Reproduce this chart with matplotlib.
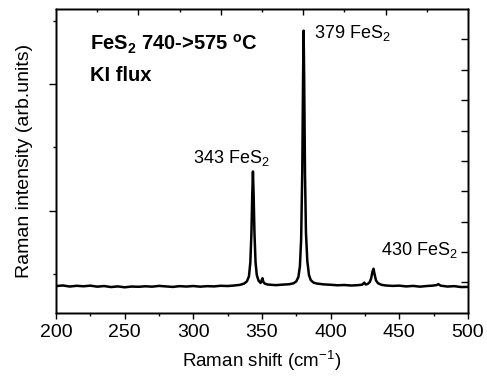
import matplotlib
matplotlib.use("Agg")
import matplotlib.pyplot as plt

plt.rcParams['font.family'] = ['Liberation Sans', 'DejaVu Sans']
plt.rcParams['mathtext.fontset'] = 'custom'
plt.rcParams['mathtext.rm'] = 'Liberation Sans'
plt.rcParams['mathtext.bf'] = 'Liberation Sans:bold'

# spectrum (Raman shift, intensity)
shift = [200, 205, 210, 215, 220, 225, 230, 235, 240, 245, 250, 255, 260, 265,
         270, 275, 280, 285, 290, 295, 300, 305, 310, 315, 320, 325, 330, 334,
         337, 339, 340.5, 341.5, 342.3, 342.9, 343.4, 343.9, 344.5, 345.3, 346.2,
         347.5, 349, 350.3, 351, 352, 354, 357, 360, 365, 370, 373, 375, 376.5,
         377.6, 378.5, 379.3, 379.9, 380.3, 380.7, 381.3, 382, 383, 384.2, 385.5,
         387.5, 390, 395, 400, 405, 410, 415, 420, 423, 424.5, 425.5, 427, 428.5,
         429.5, 430.5, 431.2, 432, 433, 434.5, 437, 440, 445, 450, 455, 460, 465,
         470, 474, 477, 478.5, 480, 485, 490, 495, 500]
intensity = [805, 815, 798, 810, 802, 812, 796, 806, 790, 800, 786, 798, 794,
             802, 796, 808, 800, 792, 804, 798, 806, 796, 804, 800, 810, 806, 815,
             825, 845, 880, 960, 1180, 1650, 2250, 2620, 2250, 1650, 1180, 980,
             890, 855, 930, 870, 845, 830, 825, 820, 828, 835, 850, 880, 950,
             1120, 1550, 2600, 4100, 4850, 4100, 2600, 1650, 1200, 980, 900, 860,
             845, 832, 826, 818, 822, 814, 820, 828, 860, 830, 840, 870, 930, 1040,
             1080, 990, 895, 850, 825, 815, 808, 812, 800, 808, 796, 806, 812, 820,
             835, 812, 798, 804, 790, 792]

x_major = [200, 250, 300, 350, 400, 450, 500]
x_minor = [225, 275, 325, 375, 425, 475]
top_major = [260, 320, 380, 440]
top_minor = [230, 290, 350, 410, 470]
y_major = [2000, 4000]
y_minor = [1000, 3000, 5000]
right_ticks = [1, 2, 3, 4, 5, 6, 7, 8, 9]

peak_labels = ["343 FeS$_2$", "379 FeS$_2$", "430 FeS$_2$"]
peak_label_pos = [(299.5, 2830), (388, 4820), (436.5, 1370)]

fig = plt.figure(figsize=(4.87, 3.79), dpi=100)
ax = fig.add_axes([0.115, 0.175, 0.846, 0.801])

ax.plot(shift, intensity, color='black', lw=1.8)

ax.set_xlim(200, 500)
ax.set_ylim(384, 5192)
ax.set_xticks(x_major)
ax.set_xticks(x_minor, minor=True)
ax.set_yticks(y_major)
ax.set_yticks(y_minor, minor=True)
ax.set_yticklabels([])
ax.tick_params(axis='x', which='major', direction='out', length=4.5, width=1,
               labelsize=14, pad=4)
ax.tick_params(axis='x', which='minor', direction='out', length=2.5, width=1)
ax.tick_params(axis='y', which='major', direction='out', length=5, width=1)
ax.tick_params(axis='y', which='minor', direction='out', length=2.5, width=1)

ax.set_xlabel("Raman shift (cm$^{-1}$)", fontsize=13.5, labelpad=5)
ax.set_ylabel("Raman intensity (arb.units)", fontsize=14, labelpad=8)

# top axis with its own ticks
axt = ax.twiny()
axt.set_xlim(200, 500)
axt.set_xticks(top_major)
axt.set_xticks(top_minor, minor=True)
axt.set_xticklabels([])
axt.tick_params(axis='x', which='major', direction='in', length=4.5, width=1)
axt.tick_params(axis='x', which='minor', direction='in', length=2.5, width=1)

# right axis with its own ticks
axr = ax.twinx()
axr.set_ylim(0, 10)
axr.set_yticks(right_ticks)
axr.set_yticklabels([])
axr.tick_params(axis='y', which='major', direction='in', length=5, width=1)

for a in (ax, axt, axr):
    for s in a.spines.values():
        s.set_linewidth(1)

for lab, (px, py) in zip(peak_labels, peak_label_pos):
    ax.text(px, py, lab, fontsize=13, ha='left', va='center')

ax.text(0.083, 0.885, "FeS$_\\mathbf{2}$ 740->575 $^\\mathbf{o}$C",
        transform=ax.transAxes, fontsize=14.5, fontweight='bold', va='center')
ax.text(0.083, 0.78, "KI flux", transform=ax.transAxes, fontsize=14.5,
        fontweight='bold', va='center')

fig.savefig("out.png", dpi=100)
